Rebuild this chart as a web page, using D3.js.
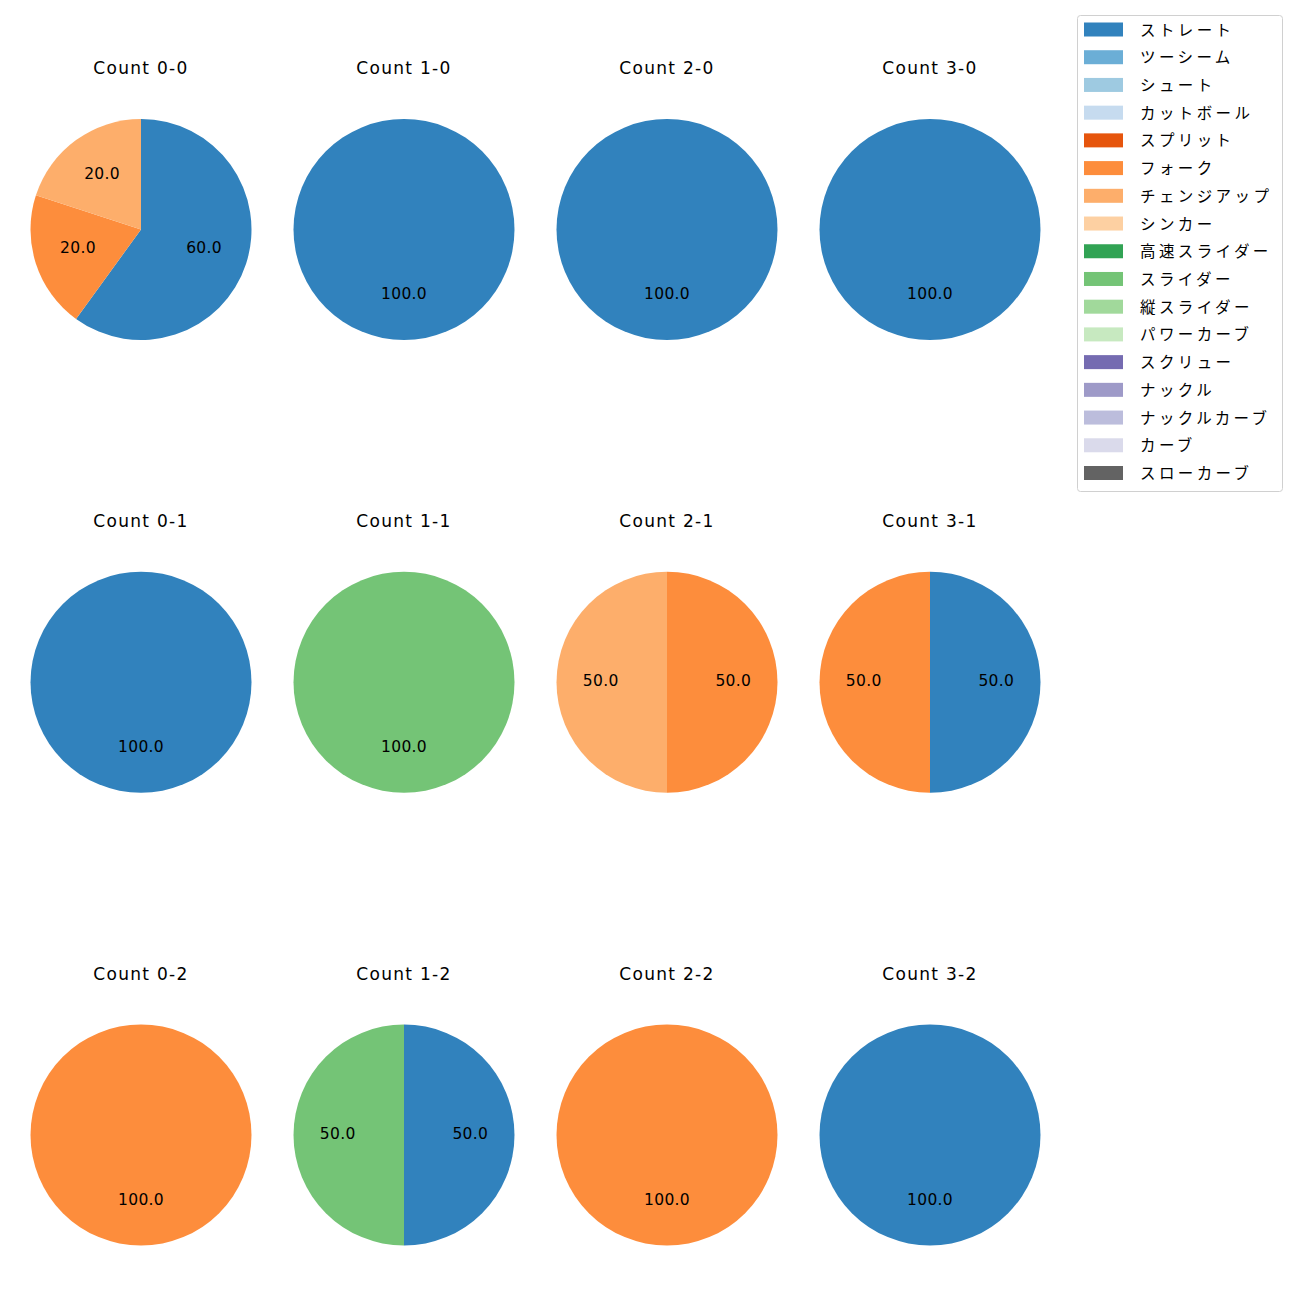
<!DOCTYPE html>
<html><head><meta charset="utf-8">
<script src="https://cdn.jsdelivr.net/npm/d3@7"></script>
<style>body{margin:0;background:#fff}svg{display:block}text{font-family:"DejaVu Sans","Noto Sans CJK JP",sans-serif}.lg{font-family:"Noto Sans CJK JP",sans-serif}</style>
</head><body>
<script>
const pitchTypes = ["ストレート","ツーシーム","シュート","カットボール","スプリット","フォーク","チェンジアップ","シンカー","高速スライダー","スライダー","縦スライダー","パワーカーブ","スクリュー","ナックル","ナックルカーブ","カーブ","スローカーブ"];
const pitchColors = ["#3182bd","#6baed6","#9ecae1","#c6dbef","#e6550d","#fd8d3c","#fdae6b","#fdd0a2","#31a354","#74c476","#a1d99b","#c7e9c0","#756bb1","#9e9ac8","#bcbddc","#dadaeb","#636363"];
const countTitles = ["Count 0-0","Count 1-0","Count 2-0","Count 3-0","Count 0-1","Count 1-1","Count 2-1","Count 3-1","Count 0-2","Count 1-2","Count 2-2","Count 3-2"];
const pieTypes = [
  ["ストレート","フォーク","チェンジアップ"],
  ["ストレート"],["ストレート"],["ストレート"],
  ["ストレート"],["スライダー"],["フォーク","チェンジアップ"],["ストレート","フォーク"],
  ["フォーク"],["ストレート","スライダー"],["フォーク"],["ストレート"]
];
const pieValues = [
  [60,20,20],
  [100],[100],[100],
  [100],[100],[50,50],[50,50],
  [100],[50,50],[100],[100]
];

const W=1300,H=1300;
const svg=d3.select("body").append("svg").attr("width",W).attr("height",H);
const color=d3.scaleOrdinal().domain(pitchTypes).range(pitchColors);
const colX=d3.scalePoint().domain([0,1,2,3]).range([141,930]);
const rowY=d3.scalePoint().domain([0,1,2]).range([229.5,1135]);
const R=110.5;
const pie=d3.pie().sort(null).value(d=>d.v);
const arc=d3.arc().innerRadius(0).outerRadius(R);
const labelArc=d3.arc().innerRadius(R*0.6).outerRadius(R*0.6);

countTitles.forEach((t,i)=>{
  const cx=colX(i%4), cy=rowY(Math.floor(i/4));
  const g=svg.append("g").attr("transform",`translate(${cx},${cy})`);
  const data=pieTypes[i].map((k,j)=>({k,v:pieValues[i][j]}));
  const arcs=pie(data);
  g.selectAll("path").data(arcs).join("path").attr("d",arc).attr("fill",d=>color(d.data.k));
  g.selectAll("text.lbl").data(arcs).join("text").attr("class","lbl")
    .attr("x",d=>labelArc.centroid(d)[0]).attr("y",d=>labelArc.centroid(d)[1]+3.5)
    .attr("text-anchor","middle")
    .style("font-size","15.5px").style("letter-spacing","0.3px").attr("fill","#000")
    .text(d=>(d.data.v/d3.sum(pieValues[i])*100).toFixed(1));
  svg.append("text").attr("x",cx).attr("y",cy-155.5).attr("text-anchor","middle")
    .style("font-size","17px").style("letter-spacing","1.3px").attr("fill","#000").text(t);
});

// legend
const lg=svg.append("g");
lg.append("rect").attr("x",1077.5).attr("y",15.5).attr("width",205).attr("height",476).attr("rx",3)
  .attr("fill","#fff").attr("stroke","#d0d0d0").attr("stroke-width",1);
const ly=d3.scalePoint().domain(pitchTypes).range([29.5,473]);
pitchTypes.forEach(p=>{
  lg.append("rect").attr("x",1084).attr("y",ly(p)-7).attr("width",39).attr("height",14).attr("fill",color(p));
  lg.append("text").attr("class","lg").attr("x",1140).attr("y",ly(p)-1).attr("dominant-baseline","central")
    .style("font-size","15.5px").style("letter-spacing","3.4px").attr("fill","#000").text(p);
});
</script>
</body></html>
